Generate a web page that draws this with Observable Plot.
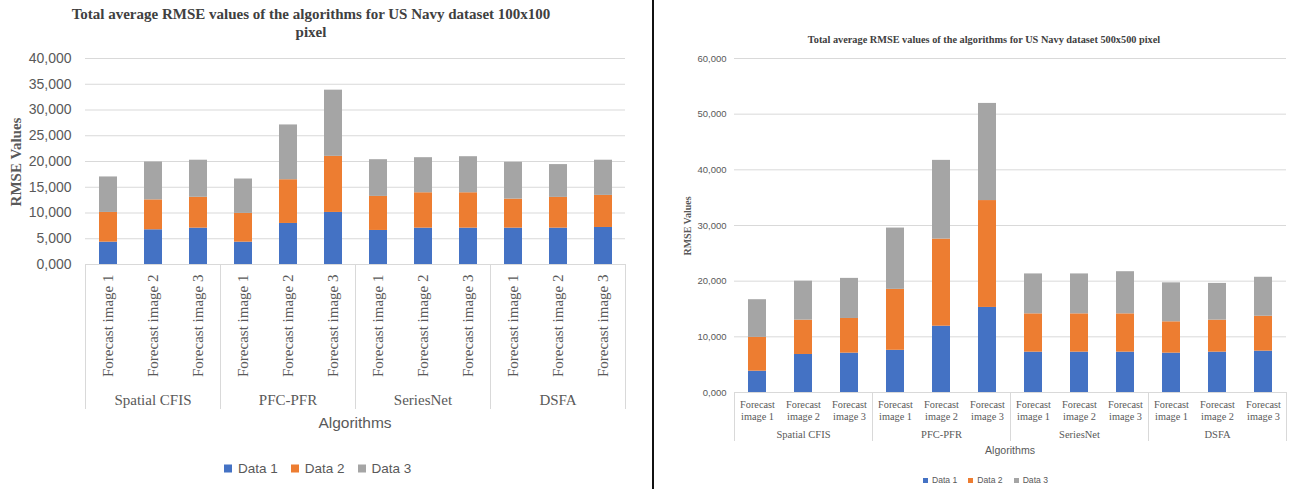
<!DOCTYPE html>
<html>
<head>
<meta charset="utf-8">
<script src="https://cdn.jsdelivr.net/npm/d3@7"></script>
<script src="https://cdn.jsdelivr.net/npm/@observablehq/plot@0.6"></script>
<style>
  body { margin: 0; background: #fff; }
  #page { position: relative; width: 1300px; height: 489px; overflow: hidden; background: #fff; }
  #page > svg, #page > .panel { position: absolute; top: 0; }
  .lbl { position: absolute; white-space: nowrap; line-height: 1; transform: translate(-50%, -50%); }
  .legend { position: absolute; display: flex; align-items: center; white-space: nowrap;
            font-family: "Liberation Sans", Arial, sans-serif; color: #595959; transform: translateY(-50%); }
  .legend span.sw { display: inline-block; }
</style>
</head>
<body>
<div id="page"></div>
<script>
// Categories
const algorithms = ["Spatial CFIS", "PFC-PFR", "SeriesNet", "DSFA"];
const images = ["Forecast image 1", "Forecast image 2", "Forecast image 3"];
const seriesNames = ["Data 1", "Data 2", "Data 3"];
const seriesColors = ["#4472C4", "#ED7D31", "#A5A5A5"];

// Y tick values of each chart
const ticks100 = [0, 5, 10, 15, 20, 25, 30, 35, 40];
const ticks500 = [0, 10, 20, 30, 40, 50, 60];

// 100x100 pixel dataset: RMSE of each series, ordered algorithm by algorithm, image 1..3
const data1_100 = [4.34, 6.74, 7.06, 4.34, 7.97, 10.11, 6.61, 7.06, 7.06, 7.06, 7.06, 7.19];
const data2_100 = [5.77, 5.81, 5.99, 5.58, 8.49, 10.89, 6.61, 6.87, 6.87, 5.64, 5.97, 6.23];
const data3_100 = [6.89, 7.35, 7.20, 6.68, 10.64, 12.85, 7.13, 6.81, 7.00, 7.15, 6.37, 6.83];

// 500x500 pixel dataset
const data1_500 = [3.83, 6.83, 7.07, 7.58, 11.91, 15.28, 7.25, 7.25, 7.25, 7.07, 7.25, 7.43];
const data2_500 = [6.07, 6.17, 6.23, 10.95, 15.65, 19.20, 6.88, 6.88, 6.88, 5.63, 5.75, 6.27];
const data3_500 = [6.77, 7.00, 7.20, 11.01, 14.14, 17.45, 7.17, 7.17, 7.57, 7.00, 6.60, 7.00];

// Decimal comma with three decimals, e.g. 40 -> "40,000"
const fmt = d => d3.format(".3f")(d).replace(".", ",");

function toRows(seriesValues) {
  const rows = [];
  seriesValues.forEach((values, s) => {
    algorithms.forEach((alg, a) => {
      images.forEach((img, i) => {
        rows.push({series: seriesNames[s], alg, img, value: values[a * images.length + i]});
      });
    });
  });
  return rows;
}

const cells = algorithms.flatMap(alg => images.map(img => ({alg, img})));

const page = document.getElementById("page");

function addLabel(text, x, y, css) {
  const el = document.createElement("div");
  el.className = "lbl";
  el.innerHTML = text;
  el.style.left = x + "px";
  el.style.top = y + "px";
  Object.assign(el.style, css);
  page.appendChild(el);
  return el;
}

function addLegend(x, y, o) {
  const el = document.createElement("div");
  el.className = "legend";
  el.style.left = x + "px";
  el.style.top = y + "px";
  el.style.fontSize = o.fontSize + "px";
  seriesNames.forEach((name, i) => {
    const sw = document.createElement("span");
    sw.className = "sw";
    sw.style.width = o.swatch + "px";
    sw.style.height = o.swatch + "px";
    sw.style.background = seriesColors[i];
    sw.style.marginRight = o.gap + "px";
    const tx = document.createElement("span");
    tx.textContent = name;
    tx.style.marginRight = (i < seriesNames.length - 1 ? o.spacing : 0) + "px";
    el.appendChild(sw);
    el.appendChild(tx);
  });
  page.appendChild(el);
}

const serif = "'Liberation Serif', 'Times New Roman', serif";
const sans = "'Liberation Sans', Arial, sans-serif";

// ---- 100x100 chart (left) ----
{
  const W = 650, H = 489, mt = 58, mb = 225, ml = 85, mr = 25;
  const plotH = H - mt - mb;
  const chart = Plot.plot({
    width: W, height: H,
    marginTop: mt, marginBottom: mb, marginLeft: ml, marginRight: mr,
    style: {fontFamily: sans, fontSize: "14px", color: "#595959", background: "transparent", overflow: "visible"},
    fx: {domain: algorithms, padding: 0, axis: null},
    x: {domain: images, paddingInner: 0.6, paddingOuter: 0.3, axis: null},
    y: {domain: [0, 40], axis: null},
    color: {domain: seriesNames, range: seriesColors},
    marks: [
      Plot.gridY(ticks100, {stroke: "#d9d9d9", strokeOpacity: 1}),
      Plot.axisY(ticks100, {tickSize: 0, tickPadding: 14, tickFormat: fmt, fontSize: 14, color: "#595959", label: null}),
      Plot.barY(toRows([data1_100, data2_100, data3_100]), {fx: "alg", x: "img", y: "value", fill: "series", inset: 0}),
      Plot.frame({anchor: "left", insetTop: plotH, insetBottom: -144, stroke: "#d9d9d9", strokeOpacity: 1}),
      Plot.frame({anchor: "right", insetTop: plotH, insetBottom: -144, stroke: "#d9d9d9", strokeOpacity: 1}),
      Plot.text(cells, {fx: "alg", x: "img", text: "img", frameAnchor: "bottom", dy: 10, rotate: -90,
        textAnchor: "end", lineAnchor: "middle", fontFamily: serif, fontSize: 15, fill: "#595959"}),
      Plot.text(algorithms, {fx: d => d, text: d => d, frameAnchor: "bottom", dy: 136,
        lineAnchor: "middle", fontFamily: serif, fontSize: 15, fill: "#595959"})
    ]
  });
  chart.style.left = "0px";
  page.appendChild(chart);

  addLabel("Total average RMSE values of the algorithms for US Navy dataset 100x100<br>pixel", 311, 23,
    {fontFamily: serif, fontWeight: "bold", fontSize: "15px", lineHeight: "18px", color: "#404040", textAlign: "center"});
  addLabel("RMSE Values", 16, 162,
    {fontFamily: serif, fontWeight: "bold", fontSize: "15px", color: "#595959", transform: "translate(-50%, -50%) rotate(-90deg)"});
  addLabel("Algorithms", 355, 423, {fontFamily: sans, fontSize: "15.5px", color: "#595959"});
  addLegend(224, 468, {fontSize: 13.5, swatch: 8, gap: 6, spacing: 13});
}

// ---- 500x500 chart (right) ----
{
  const X0 = 650;
  const W = 650, H = 489, mt = 58, mb = 97, ml = 83, mr = 13;
  const plotH = H - mt - mb;
  const chart = Plot.plot({
    width: W, height: H,
    marginTop: mt, marginBottom: mb, marginLeft: ml, marginRight: mr,
    style: {fontFamily: sans, fontSize: "9.5px", color: "#595959", background: "transparent", overflow: "visible"},
    fx: {domain: algorithms, padding: 0, axis: null},
    x: {domain: images, paddingInner: 0.6, paddingOuter: 0.3, axis: null},
    y: {domain: [0, 60], axis: null},
    color: {domain: seriesNames, range: seriesColors},
    marks: [
      Plot.gridY(ticks500, {stroke: "#d9d9d9", strokeOpacity: 1}),
      Plot.axisY(ticks500, {tickSize: 0, tickPadding: 8, tickFormat: fmt, fontSize: 9.5, color: "#595959", label: null}),
      Plot.barY(toRows([data1_500, data2_500, data3_500]), {fx: "alg", x: "img", y: "value", fill: "series", inset: 0}),
      Plot.frame({anchor: "left", insetTop: plotH, insetBottom: -48, stroke: "#d9d9d9", strokeOpacity: 1}),
      Plot.frame({anchor: "right", insetTop: plotH, insetBottom: -48, stroke: "#d9d9d9", strokeOpacity: 1}),
      Plot.text(cells, {fx: "alg", x: "img", text: d => d.img.replace(" image", "\nimage"),
        frameAnchor: "bottom", dy: 18, lineAnchor: "middle", lineHeight: 1.17,
        fontFamily: serif, fontSize: 10.3, fill: "#595959"}),
      Plot.text(algorithms, {fx: d => d, text: d => d, frameAnchor: "bottom", dy: 42,
        lineAnchor: "middle", fontFamily: serif, fontSize: 10.5, fill: "#595959"})
    ]
  });
  chart.style.left = X0 + "px";
  page.appendChild(chart);

  addLabel("Total average RMSE values of the algorithms for US Navy dataset 500x500 pixel", 984, 39.5,
    {fontFamily: serif, fontWeight: "bold", fontSize: "10.3px", color: "#404040"});
  addLabel("RMSE Values", 687.5, 226,
    {fontFamily: serif, fontWeight: "bold", fontSize: "10px", color: "#595959", transform: "translate(-50%, -50%) rotate(-90deg)"});
  addLabel("Algorithms", 1010, 449.5, {fontFamily: sans, fontSize: "10.6px", color: "#595959"});
  addLegend(923, 480, {fontSize: 8.6, swatch: 5, gap: 4, spacing: 11});

  // panel border on the left of this chart
  const border = document.createElement("div");
  border.className = "panel";
  Object.assign(border.style, {left: "652px", width: "2px", height: "489px", background: "#111"});
  page.appendChild(border);
}
</script>
</body>
</html>
